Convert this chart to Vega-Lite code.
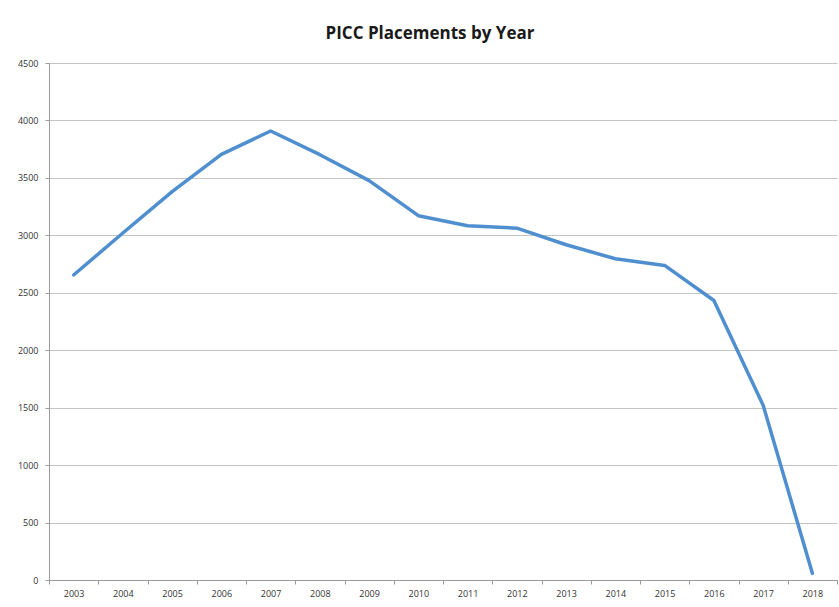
{
  "$schema": "https://vega.github.io/schema/vega-lite/v6.json",
  "width": 788,
  "height": 517,
  "autosize": {"type": "none"},
  "padding": {"left": 49, "top": 63, "right": 2, "bottom": 27},
  "background": "white",
  "title": {
    "text": "PICC Placements by Year",
    "font": "Open Sans",
    "fontSize": 17,
    "fontWeight": "bold",
    "color": "#1a1a1a",
    "anchor": "middle",
    "dx": -13,
    "offset": 16
  },
  "data": {
    "values": [
      {"year": "2003", "placements": 2655},
      {"year": "2004", "placements": 3020},
      {"year": "2005", "placements": 3380},
      {"year": "2006", "placements": 3705},
      {"year": "2007", "placements": 3908},
      {"year": "2008", "placements": 3702},
      {"year": "2009", "placements": 3476},
      {"year": "2010", "placements": 3171},
      {"year": "2011", "placements": 3084},
      {"year": "2012", "placements": 3062},
      {"year": "2013", "placements": 2918},
      {"year": "2014", "placements": 2796},
      {"year": "2015", "placements": 2738},
      {"year": "2016", "placements": 2433},
      {"year": "2017", "placements": 1522},
      {"year": "2018", "placements": 58}
    ]
  },
  "mark": {"type": "line", "color": "#4f8fcf", "strokeWidth": 3.5, "strokeCap": "round", "strokeJoin": "round"},
  "encoding": {
    "x": {
      "field": "year",
      "type": "ordinal",
      "scale": {"type": "band", "paddingInner": 0, "paddingOuter": 0},
      "axis": {
        "title": null,
        "labelAngle": 0,
        "tickBand": "extent",
        "domainColor": "#9a9a9a",
        "tickColor": "#9a9a9a",
        "tickSize": 4,
        "labelFont": "Open Sans",
        "labelFontSize": 9,
        "labelColor": "#333333",
        "labelPadding": 5,
        "grid": false
      }
    },
    "y": {
      "field": "placements",
      "type": "quantitative",
      "scale": {"domain": [0, 4500], "nice": false},
      "axis": {
        "title": null,
        "format": "d",
        "values": [0, 500, 1000, 1500, 2000, 2500, 3000, 3500, 4000, 4500],
        "domainColor": "#9a9a9a",
        "tickColor": "#9a9a9a",
        "tickSize": 4,
        "labelFont": "Open Sans",
        "labelFontSize": 9,
        "labelColor": "#333333",
        "labelPadding": 7,
        "grid": true,
        "gridColor": "#c4c4c4",
        "gridWidth": 1.2
      }
    }
  },
  "config": {
    "view": {"stroke": null}
  }
}
